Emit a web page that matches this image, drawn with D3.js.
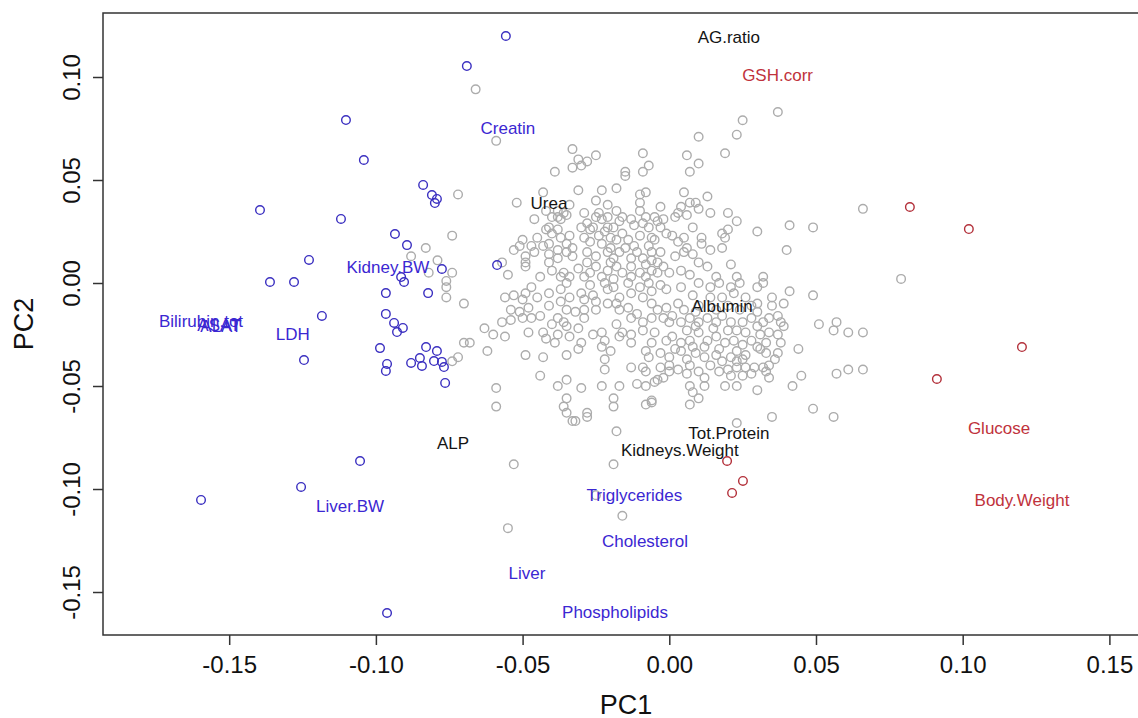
<!DOCTYPE html>
<html>
<head>
<meta charset="utf-8">
<script src="https://cdn.jsdelivr.net/npm/d3@7"></script>
<style>
  body { margin: 0; background: #fff; }
  svg { font-family: "Liberation Sans", Arial, Helvetica, sans-serif; }
</style>
</head>
<body>
<script>
// PCA loadings: grey = other variables, blue / red = highlighted groups
const greyPoints = [
  [-0.066, 0.094], [-0.059, 0.069], [0.037, 0.083], [0.025, 0.079], [0.023, 0.072], [0.010, 0.071],
  [0.019, 0.063], [0.006, 0.062], [0.010, 0.058], [0.007, 0.054], [-0.009, 0.063], [-0.007, 0.057],
  [-0.009, 0.054], [-0.015, 0.054], [-0.015, 0.052], [-0.033, 0.065], [-0.031, 0.060], [-0.025, 0.062],
  [-0.028, 0.059], [-0.030, 0.057], [-0.033, 0.056], [-0.039, 0.054], [-0.031, 0.045], [-0.072, 0.043],
  [-0.052, 0.039], [-0.074, 0.023], [-0.083, 0.017], [-0.023, 0.045], [-0.018, 0.046], [-0.025, 0.040],
  [-0.021, 0.038], [-0.010, 0.043], [-0.008, 0.044], [-0.010, 0.039], [-0.010, 0.035], [-0.003, 0.037],
  [0.005, 0.044], [0.009, 0.039], [0.013, 0.042], [0.014, 0.034], [0.020, 0.034], [0.023, 0.030],
  [0.030, 0.025], [0.020, 0.026], [0.018, 0.024], [0.019, 0.022], [0.008, 0.027], [0.011, 0.022],
  [0.004, 0.037], [0.007, 0.039], [0.003, 0.034], [-0.046, 0.031], [-0.042, 0.035], [-0.040, 0.032],
  [-0.038, 0.035], [-0.035, 0.033], [-0.037, 0.031], [-0.034, 0.038], [-0.029, 0.034], [-0.030, 0.027],
  [-0.027, 0.026], [-0.024, 0.034], [-0.021, 0.032], [-0.018, 0.035], [-0.050, 0.021], [-0.045, 0.022],
  [-0.042, 0.026], [-0.040, 0.024], [-0.043, 0.044], [-0.028, 0.029], [-0.026, 0.027], [-0.025, 0.032],
  [-0.023, 0.031], [-0.021, 0.027], [-0.016, 0.032], [-0.017, 0.030], [-0.013, 0.031], [-0.012, 0.028],
  [-0.009, 0.029], [-0.008, 0.032], [-0.007, 0.027], [-0.004, 0.030], [-0.029, 0.022], [-0.027, 0.020],
  [-0.024, 0.023], [-0.023, 0.019], [-0.020, 0.022], [-0.018, 0.021], [-0.016, 0.024], [-0.028, 0.015],
  [-0.025, 0.013], [-0.021, 0.015], [-0.019, 0.012], [-0.017, 0.015], [-0.013, 0.012], [-0.011, 0.015],
  [-0.009, 0.012], [-0.006, 0.015], [-0.004, 0.010], [-0.057, 0.010], [-0.055, 0.004], [-0.049, 0.008],
  [-0.049, 0.010], [-0.044, 0.003], [-0.041, 0.010], [-0.040, 0.006], [-0.037, 0.003], [-0.036, 0.005],
  [-0.035, 0.000], [-0.034, 0.003], [-0.029, 0.003], [-0.027, 0.005], [-0.025, 0.008], [-0.023, 0.003],
  [-0.021, 0.006], [-0.019, 0.002], [-0.018, 0.008], [-0.016, 0.005], [-0.013, 0.008], [-0.013, 0.003],
  [-0.010, 0.005], [-0.008, 0.003], [-0.006, 0.006], [-0.056, -0.007], [-0.053, -0.006], [-0.049, -0.005],
  [-0.047, -0.002], [-0.045, -0.007], [-0.041, -0.005], [-0.037, -0.003], [-0.034, -0.007], [-0.030, -0.005],
  [-0.026, -0.006], [-0.021, -0.003], [-0.017, -0.007], [-0.013, -0.005], [-0.009, -0.007], [-0.006, -0.004],
  [-0.074, 0.005], [-0.051, 0.018], [-0.053, 0.016], [-0.049, 0.013], [-0.046, 0.015], [-0.047, 0.018],
  [-0.043, 0.018], [-0.041, 0.019], [-0.041, 0.014], [-0.038, 0.016], [-0.038, 0.012], [-0.035, 0.015],
  [-0.033, 0.017], [-0.033, 0.013], [-0.034, 0.023], [-0.035, 0.019], [-0.041, 0.027], [-0.038, 0.026],
  [-0.037, 0.022], [-0.036, 0.034], [-0.038, 0.032], [0.066, 0.036], [0.041, 0.028], [0.049, 0.027],
  [0.040, 0.016], [0.010, 0.036], [0.002, 0.032], [0.006, 0.033], [0.011, 0.019], [0.005, 0.022],
  [0.003, 0.020], [0.006, 0.017], [-0.005, 0.032], [-0.002, 0.031], [-0.003, 0.027], [-0.001, 0.024],
  [-0.006, 0.022], [0.001, 0.023], [0.018, 0.017], [0.014, 0.016], [0.021, 0.009], [0.013, 0.008],
  [0.010, 0.010], [0.008, 0.014], [0.005, 0.015], [0.002, 0.013], [-0.003, 0.015], [-0.006, 0.011],
  [-0.002, 0.008], [-0.004, 0.005], [0.000, 0.005], [0.004, 0.006], [0.007, 0.004], [0.016, 0.003],
  [0.017, 0.000], [0.014, -0.002], [0.010, 0.000], [0.023, 0.003], [0.024, 0.000], [0.021, -0.002],
  [0.032, 0.003], [0.032, 0.000], [0.030, -0.002], [0.041, -0.004], [0.049, -0.006], [0.035, -0.007],
  [0.079, 0.002], [0.039, -0.010], [0.035, -0.011], [0.037, -0.016], [0.038, -0.019], [0.039, -0.021],
  [0.051, -0.020], [0.056, -0.023], [0.057, -0.019], [0.061, -0.024], [0.066, -0.024], [0.034, -0.024],
  [0.037, -0.025], [0.044, -0.032], [0.038, -0.029], [0.037, -0.034], [0.033, -0.029], [0.031, -0.032],
  [0.033, -0.034], [0.036, -0.037], [0.034, -0.040], [0.057, -0.044], [0.061, -0.042], [0.066, -0.042],
  [0.045, -0.045], [0.042, -0.050], [0.030, -0.052], [0.033, -0.043], [0.034, -0.046], [0.029, -0.041],
  [0.028, -0.044], [0.026, -0.041], [0.049, -0.061], [0.056, -0.065], [0.035, -0.065], [0.023, -0.068],
  [0.023, -0.050], [0.019, -0.050], [0.010, -0.056], [0.007, -0.059], [0.008, -0.053], [0.007, -0.050],
  [0.012, -0.050], [-0.002, -0.046], [-0.004, -0.047], [-0.006, -0.057], [0.000, -0.040], [0.003, -0.042],
  [0.006, -0.044], [0.010, -0.043], [0.012, -0.046], [0.017, -0.043], [0.020, -0.042], [0.021, -0.045],
  [0.023, -0.041], [0.025, -0.037], [0.000, -0.019], [0.004, -0.019], [0.007, -0.017], [0.010, -0.019],
  [0.013, -0.017], [0.016, -0.019], [0.018, -0.016], [0.021, -0.019], [0.023, -0.023], [0.025, -0.019],
  [0.028, -0.017], [0.030, -0.021], [0.032, -0.019], [-0.005, -0.024], [-0.001, -0.028], [0.001, -0.026],
  [0.004, -0.029], [0.007, -0.028], [0.010, -0.024], [0.013, -0.028], [0.016, -0.026], [0.019, -0.029],
  [0.022, -0.028], [0.025, -0.030], [0.028, -0.028], [0.030, -0.031], [-0.003, -0.034], [0.000, -0.036],
  [0.004, -0.033], [0.006, -0.037], [0.009, -0.034], [0.012, -0.036], [0.016, -0.035], [0.018, -0.038],
  [0.021, -0.036], [0.023, -0.038], [0.026, -0.035], [-0.003, -0.041], [0.000, -0.043], [0.007, -0.040],
  [0.014, -0.040], [-0.006, -0.010], [-0.004, -0.013], [-0.001, -0.012], [0.003, -0.010], [0.005, -0.013],
  [-0.006, -0.017], [-0.002, -0.017], [0.001, -0.016], [0.014, -0.007], [0.018, -0.007], [0.022, -0.005],
  [0.026, -0.007], [0.030, -0.010], [0.030, -0.014], [-0.070, -0.010], [-0.050, -0.008], [-0.054, -0.013],
  [-0.051, -0.014], [-0.048, -0.012], [-0.047, -0.017], [-0.050, -0.017], [-0.057, -0.019], [-0.054, -0.018],
  [-0.063, -0.022], [-0.060, -0.025], [-0.056, -0.026], [-0.048, -0.024], [-0.043, -0.024], [-0.042, -0.027],
  [-0.037, -0.009], [-0.038, -0.017], [-0.036, -0.019], [-0.035, -0.021], [-0.031, -0.022], [-0.035, -0.013],
  [-0.029, -0.013], [-0.029, -0.017], [-0.038, -0.025], [-0.034, -0.026], [-0.039, -0.029], [-0.030, -0.029],
  [-0.031, -0.032], [-0.025, -0.009], [-0.025, -0.013], [-0.021, -0.010], [-0.023, -0.024], [-0.022, -0.028],
  [-0.023, -0.031], [-0.020, -0.033], [-0.022, -0.037], [-0.022, -0.042], [-0.018, -0.020], [-0.016, -0.024],
  [-0.013, -0.025], [-0.017, -0.026], [-0.013, -0.029], [-0.018, -0.010], [-0.017, -0.013], [-0.014, -0.012],
  [-0.013, -0.017], [-0.011, -0.015], [-0.009, -0.019], [-0.009, -0.023], [-0.013, -0.041], [-0.009, -0.041],
  [-0.008, -0.043], [-0.008, -0.033], [-0.007, -0.036], [-0.006, -0.029], [-0.062, -0.033], [-0.068, -0.029],
  [-0.070, -0.029], [-0.072, -0.036], [-0.074, -0.038], [-0.049, -0.035], [-0.043, -0.036], [-0.035, -0.035],
  [-0.044, -0.045], [-0.035, -0.047], [-0.038, -0.050], [-0.030, -0.051], [-0.023, -0.050], [-0.017, -0.050],
  [-0.011, -0.049], [-0.008, -0.050], [-0.005, -0.048], [-0.059, -0.051], [-0.059, -0.060], [-0.035, -0.056],
  [-0.036, -0.060], [-0.035, -0.063], [-0.033, -0.067], [-0.032, -0.067], [-0.028, -0.063], [-0.028, -0.065],
  [-0.019, -0.056], [-0.019, -0.060], [-0.008, -0.059], [-0.006, -0.058], [-0.018, -0.072], [-0.053, -0.088],
  [-0.019, -0.088], [-0.055, -0.119], [-0.016, -0.113], [-0.025, -0.103], [-0.088, 0.013], [-0.079, 0.011],
  [-0.082, 0.005], [-0.076, 0.001], [-0.076, -0.002], [-0.076, -0.007], [0.032, -0.041], [-0.001, -0.003],
  [0.004, -0.002], [0.008, -0.006], [0.010, -0.011], [0.016, -0.013], [0.024, -0.013], [0.020, -0.011],
  [-0.010, -0.002], [-0.019, -0.002], [-0.027, -0.001],
  [-0.022, 0.025], [-0.019, 0.027], [-0.014, 0.021], [-0.010, 0.023], [-0.007, 0.018], [-0.005, 0.021],
  [-0.020, 0.017], [-0.015, 0.017], [-0.012, 0.018], [-0.008, 0.009], [-0.014, 0.000], [-0.022, 0.000],
  [-0.007, 0.000], [-0.003, -0.001], [-0.020, 0.010], [-0.028, 0.010], [-0.031, 0.007],
  [0.009, -0.014], [0.015, -0.022], [0.020, -0.023], [0.026, -0.024], [0.012, -0.031], [0.017, -0.032],
  [0.023, -0.033], [0.009, -0.021], [0.006, -0.023], [0.002, -0.032], [0.008, -0.031], [0.025, -0.045],
  [0.031, -0.025], [0.034, -0.017], [0.028, -0.011],
  [-0.041, -0.011], [-0.044, -0.016], [-0.040, -0.020], [-0.026, -0.025], [-0.032, -0.014], [-0.029, -0.008]
];

const bluePoints = [
  [-0.0557, 0.1199], [-0.0690, 0.1053], [-0.1102, 0.0791], [-0.1041, 0.0597], [-0.0839, 0.0476],
  [-0.0809, 0.0427], [-0.0792, 0.0408], [-0.0799, 0.0388], [-0.1395, 0.0354], [-0.1119, 0.0311],
  [-0.0935, 0.0238], [-0.0894, 0.0184], [-0.1228, 0.0112], [-0.0587, 0.0087], [-0.0775, 0.0068],
  [-0.0914, 0.0029], [-0.0904, 0.0005], [-0.1361, 0.0005], [-0.1279, 0.0005], [-0.0966, -0.0049],
  [-0.0822, -0.0049], [-0.0966, -0.0150], [-0.1184, -0.0160], [-0.0938, -0.0194], [-0.0908, -0.0218],
  [-0.0928, -0.0238], [-0.0986, -0.0316], [-0.0829, -0.0311], [-0.0792, -0.0330], [-0.1245, -0.0374],
  [-0.0850, -0.0364], [-0.0880, -0.0388], [-0.0802, -0.0379], [-0.0775, -0.0383], [-0.0962, -0.0393],
  [-0.0843, -0.0403], [-0.0768, -0.0408], [-0.0966, -0.0427], [-0.0764, -0.0485], [-0.1054, -0.0864],
  [-0.1255, -0.0990], [-0.1596, -0.1053], [-0.0962, -0.1602]
];

const redPoints = [
  [0.0820, 0.0369], [0.1021, 0.0262], [0.1202, -0.0311], [0.0912, -0.0466],
  [0.0197, -0.0864], [0.0251, -0.0961], [0.0214, -0.1019]
];

// variable labels
const labelNames = ["Creatin", "Kidney.BW", "Bilirubin.tot", "ASAT", "ALAT", "LDH", "Liver.BW",
  "Triglycerides", "Cholesterol", "Liver", "Phospholipids",
  "AG.ratio", "Urea", "Albumin", "ALP", "Tot.Protein", "Kidneys.Weight",
  "GSH.corr", "Glucose", "Body.Weight"];
const labelPC1 = [-0.0550, -0.0959, -0.1596, -0.1535, -0.1528, -0.1283, -0.1088,
  -0.0119, -0.0083, -0.0485, -0.0185,
  0.0203, -0.0410, 0.0180, -0.0737, 0.0203, 0.0036,
  0.0369, 0.1124, 0.1202];
const labelPC2 = [0.0752, 0.0078, -0.0184, -0.0204, -0.0209, -0.0248, -0.1083,
  -0.1029, -0.1252, -0.1408, -0.1597,
  0.1194, 0.0388, -0.0112, -0.0777, -0.0728, -0.0811,
  0.1010, -0.0704, -0.1053];
const labelGroup = ["blue", "blue", "blue", "blue", "blue", "blue", "blue",
  "blue", "blue", "blue", "blue",
  "black", "black", "black", "black", "black", "black",
  "red", "red", "red"];

const xTicks = [-0.15, -0.10, -0.05, 0.00, 0.05, 0.10, 0.15];
const yTicks = [-0.15, -0.10, -0.05, 0.00, 0.05, 0.10];

const width = 1138;
const height = 718;
const plotLeft = 103, plotRight = 1149, plotTop = 13, plotBottom = 635;

const pointColor = { grey: '#acacac', blue: '#3a2fc0', red: '#b3303a' };
const textColor = { blue: '#3b27d2', black: '#141414', red: '#c0323c' };

const xScale = d3.scaleLinear().domain([-0.19301, 0.16350]).range([plotLeft, plotRight]);
const yScale = d3.scaleLinear().domain([-0.17087, 0.13107]).range([plotBottom, plotTop]);

const fmt = (d) => d3.format('.2f')(d).replace('\u2212', '-');

const svg = d3.select('body')
  .append('svg')
  .attr('width', width)
  .attr('height', height);

// points
function drawPoints(data, color)
{
  svg.append('g')
    .selectAll('circle')
    .data(data)
    .enter()
    .append('circle')
    .attr('cx', (d) => xScale(d[0]))
    .attr('cy', (d) => yScale(d[1]))
    .attr('r', 4.3)
    .attr('fill', 'none')
    .attr('stroke', color)
    .attr('stroke-width', 1.4);
}
drawPoints(greyPoints, pointColor.grey);
drawPoints(bluePoints, pointColor.blue);
drawPoints(redPoints, pointColor.red);

// labels
svg.append('g')
  .selectAll('text')
  .data(labelNames)
  .enter()
  .append('text')
  .attr('x', (d, i) => xScale(labelPC1[i]))
  .attr('y', (d, i) => yScale(labelPC2[i]))
  .attr('dy', '0.35em')
  .attr('text-anchor', 'middle')
  .attr('font-size', 17)
  .attr('fill', (d, i) => textColor[labelGroup[i]])
  .text((d) => d);

// frame
svg.append('rect')
  .attr('x', plotLeft)
  .attr('y', plotTop)
  .attr('width', plotRight - plotLeft)
  .attr('height', plotBottom - plotTop)
  .attr('fill', 'none')
  .attr('stroke', '#333')
  .attr('stroke-width', 1.5);

// axes
const xAxis = d3.axisBottom(xScale).tickValues(xTicks).tickFormat(fmt).tickSize(10);
const gx = svg.append('g')
  .attr('transform', 'translate(0,' + plotBottom + ')')
  .call(xAxis);
gx.select('.domain').remove();
gx.selectAll('line').attr('stroke', '#333').attr('stroke-width', 1.5);
gx.selectAll('text')
  .attr('y', 21)
  .attr('font-size', 24)
  .attr('font-family', '"Liberation Sans", Arial, sans-serif')
  .attr('fill', '#111');

const yAxis = d3.axisLeft(yScale).tickValues(yTicks).tickFormat(fmt).tickSize(10);
const gy = svg.append('g')
  .attr('transform', 'translate(' + plotLeft + ',0)')
  .call(yAxis);
gy.select('.domain').remove();
gy.selectAll('line').attr('stroke', '#333').attr('stroke-width', 1.5);
gy.selectAll('text')
  .attr('x', null)
  .attr('dy', '0.35em')
  .attr('text-anchor', 'middle')
  .attr('transform', 'translate(-31.5,0) rotate(-90)')
  .attr('font-size', 24)
  .attr('font-family', '"Liberation Sans", Arial, sans-serif')
  .attr('fill', '#111');

// axis titles
svg.append('text')
  .attr('x', (plotLeft + plotRight) / 2)
  .attr('y', 714)
  .attr('text-anchor', 'middle')
  .attr('font-size', 27)
  .attr('fill', '#111')
  .text('PC1');

svg.append('text')
  .attr('transform', 'translate(33,' + ((plotTop + plotBottom) / 2) + ') rotate(-90)')
  .attr('text-anchor', 'middle')
  .attr('font-size', 27)
  .attr('fill', '#111')
  .text('PC2');
</script>
</body>
</html>
